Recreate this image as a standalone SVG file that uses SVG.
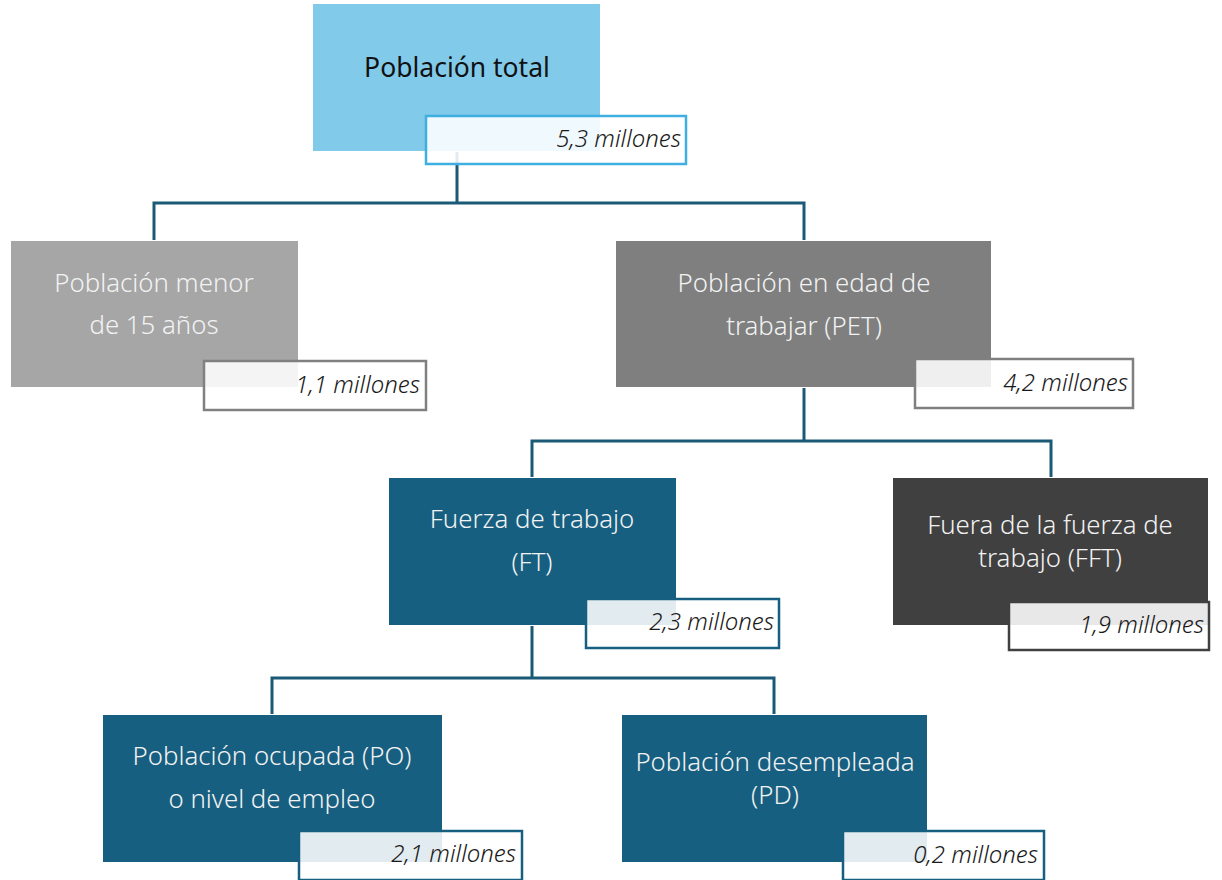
<svg xmlns="http://www.w3.org/2000/svg" width="1222" height="880" viewBox="0 0 1222 880">
<style>
.lbl{font-family:"Noto Sans","Liberation Sans",sans-serif;font-weight:300;font-size:25.8px;fill:#F2F2F2;text-anchor:middle}
.val{font-family:"Noto Sans","Liberation Sans",sans-serif;font-style:italic;font-weight:300;font-size:24px;fill:#1a1a1a;text-anchor:end}
.vbox{fill:#ffffff;fill-opacity:0.88;stroke-width:2.5}
.conn{fill:none;stroke:#1B5A77;stroke-width:3}
</style>
<rect width="1222" height="880" fill="#ffffff"/>
<g id="connectors">
<path class="conn" d="M457 152V203M154 240V203H804V240"/>
<path class="conn" d="M804 388V441M532 477V441H1051V477"/>
<path class="conn" d="M532 626V678M272 714V678H774V714"/>
</g>
<g id="total">
<rect x="313" y="4" width="287" height="147" fill="#82CAEA"/>
<text x="457" y="77" style="font-family:'Noto Sans','Liberation Sans',sans-serif;font-size:26.5px;fill:#111;text-anchor:middle">Población total</text>
<rect class="vbox" x="426" y="116" width="260" height="48" stroke="#3FAEE0"/>
<text class="val" x="681" y="147">5,3 millones</text>
</g>
<g id="menor15">
<rect x="11" y="241" width="287" height="146" fill="#A6A6A6"/>
<text class="lbl" x="154" y="292">Población menor</text>
<text class="lbl" x="154" y="334">de 15 años</text>
<rect class="vbox" x="204" y="361" width="222" height="49" stroke="#808080"/>
<text class="val" x="420" y="393">1,1 millones</text>
</g>
<g id="pet">
<rect x="616" y="241" width="375" height="146" fill="#7F7F7F"/>
<text class="lbl" x="804" y="292">Población en edad de</text>
<text class="lbl" x="804" y="335">trabajar (PET)</text>
<rect class="vbox" x="915" y="359" width="218" height="49" stroke="#7F7F7F"/>
<text class="val" x="1128" y="391">4,2 millones</text>
</g>
<g id="ft">
<rect x="389" y="478" width="287" height="147" fill="#175F80"/>
<text class="lbl" x="532" y="528">Fuerza de trabajo</text>
<text class="lbl" x="532" y="571">(FT)</text>
<rect class="vbox" x="586" y="599" width="193" height="49" stroke="#175F80"/>
<text class="val" x="774" y="630">2,3 millones</text>
</g>
<g id="fft">
<rect x="893" y="478" width="315" height="147" fill="#404040"/>
<text class="lbl" x="1050" y="534">Fuera de la fuerza de</text>
<text class="lbl" x="1050" y="567">trabajo (FFT)</text>
<rect class="vbox" x="1009" y="602" width="200" height="48" stroke="#404040"/>
<text class="val" x="1204" y="633">1,9 millones</text>
</g>
<g id="po">
<rect x="103" y="715" width="339" height="147" fill="#175F80"/>
<text class="lbl" x="272" y="765">Población ocupada (PO)</text>
<text class="lbl" x="272" y="808">o nivel de empleo</text>
<rect class="vbox" x="299" y="831" width="223" height="49" stroke="#175F80"/>
<text class="val" x="516" y="862">2,1 millones</text>
</g>
<g id="pd">
<rect x="622" y="715" width="305" height="147" fill="#175F80"/>
<text class="lbl" x="775" y="771">Población desempleada</text>
<text class="lbl" x="775" y="804">(PD)</text>
<rect class="vbox" x="843" y="831" width="201" height="49" stroke="#175F80"/>
<text class="val" x="1038" y="863">0,2 millones</text>
</g>
</svg>
